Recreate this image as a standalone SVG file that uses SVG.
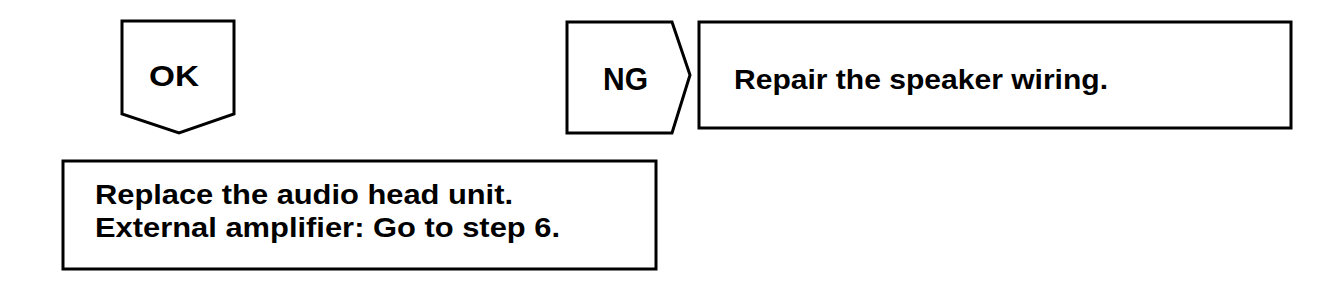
<svg xmlns="http://www.w3.org/2000/svg" width="1344" height="292" viewBox="0 0 1344 292">
<style>
.shape{fill:#fff;stroke:#000;stroke-width:3;stroke-linejoin:miter}
.t{font-family:"Liberation Sans",Arial,sans-serif;font-weight:bold;fill:#000}
</style>
<rect x="0" y="0" width="1344" height="292" fill="#fff"/>
<g id="ok">
<polygon class="shape" points="122,21 234,21 234,114 179,133 122,114"/>
<text class="t" x="149" y="86" font-size="30" textLength="50" lengthAdjust="spacingAndGlyphs">OK</text>
</g>
<g id="ng">
<polygon class="shape" points="567,22 672,22 690,75 672,133 567,133"/>
<text class="t" x="603" y="90" font-size="31" textLength="45" lengthAdjust="spacingAndGlyphs">NG</text>
</g>
<g id="repair">
<rect class="shape" x="699" y="22" width="592" height="106"/>
<text class="t" x="734" y="89" font-size="28" textLength="374" lengthAdjust="spacingAndGlyphs">Repair the speaker wiring.</text>
</g>
<g id="replace">
<rect class="shape" x="63" y="161" width="593" height="108"/>
<text class="t" x="95" y="204" font-size="28" textLength="418" lengthAdjust="spacingAndGlyphs">Replace the audio head unit.</text>
<text class="t" x="95" y="237" font-size="28" textLength="465" lengthAdjust="spacingAndGlyphs">External amplifier: Go to step 6.</text>
</g>
<g id="connectors"></g>
</svg>
